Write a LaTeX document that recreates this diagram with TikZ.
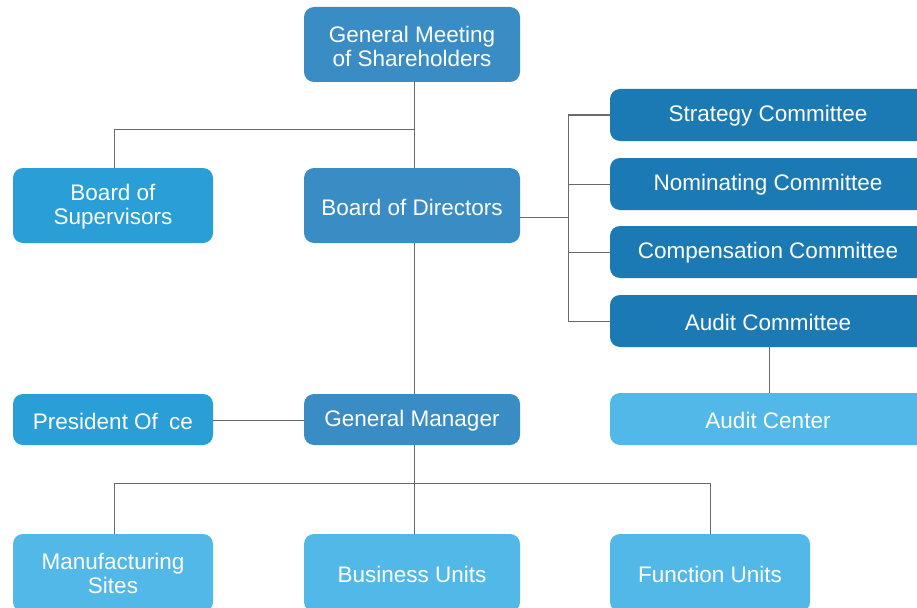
\documentclass[tikz,border=0pt]{standalone}
\usepackage{fontspec}
\setmainfont{Liberation Sans}
\begin{document}
\begin{tikzpicture}[x=1pt,y=-1pt,
  box/.style={rounded corners=10pt,text=white,font=\fontsize{22.5}{24}\selectfont,align=center,inner sep=0pt,draw=none},
  mid/.style={fill=c1},
  dark/.style={fill=c2},
  bright/.style={fill=c3},
  light/.style={fill=c4},
  conn/.style={draw=lineg,line width=1pt}]
\definecolor{c1}{HTML}{3A8CC4}
\definecolor{c2}{HTML}{1B7AB3}
\definecolor{c3}{HTML}{2A9ED6}
\definecolor{c4}{HTML}{52B8E8}
\definecolor{lineg}{HTML}{6A6A6A}
\useasboundingbox (0,0) rectangle (917,607);
\clip (0,0) rectangle (917,607);
% boxes
\path[box,mid] (304,7) rectangle (520,82);
\node[box] (gms) at (412,46) {General Meeting\\of Shareholders};
\path[box,bright] (13,168) rectangle (213,243);
\node[box] (bos) at (113,207) {Board of\\Supervisors};
\path[box,mid] (304,168) rectangle (520,243);
\node[box] (bod) at (412,207) {Board of Directors};
\path[box,dark] (610,89) rectangle (927,141);
\node[box] (sc) at (768,116) {Strategy Committee};
\path[box,dark] (610,158) rectangle (927,210);
\node[box] (nc) at (768,185) {Nominating Committee};
\path[box,dark] (610,226) rectangle (927,278);
\node[box] (cc) at (768,253) {Compensation Committee};
\path[box,dark] (610,295) rectangle (927,347);
\node[box] (ac) at (768,322) {Audit Committee};
\path[box,light] (610,393) rectangle (927,445);
\node[box] (acen) at (768,420) {Audit Center};
\path[box,bright] (13,394) rectangle (213,445);
\node[box] (po) at (113,421) {President Of\hspace{0.5em}ce};
\path[box,mid] (304,394) rectangle (520,445);
\node[box] (gm) at (412,421) {General Manager};
\path[box,light] (13,534) rectangle (213,612);
\node[box] (ms) at (113,573) {Manufacturing\\Sites};
\path[box,light] (304,534) rectangle (520,612);
\node[box] (bu) at (412,574) {Business Units};
\path[box,light] (610,534) rectangle (810,612);
\node[box] (fu) at (710,574) {Function Units};
% coordinates
\coordinate (gmsB) at (414,82);
\coordinate (bodT) at (414,168);
\coordinate (bosT) at (114,168);
\coordinate (j1) at (414,129);
\coordinate (bodR) at (520,217);
\coordinate (bodB) at (414,243);
\coordinate (gmT) at (414,394);
\coordinate (gmL) at (304,420);
\coordinate (gmB) at (414,445);
\coordinate (poR) at (213,420);
\coordinate (acB) at (769,347);
\coordinate (acenT) at (769,393);
\coordinate (scL) at (610,115);
\coordinate (ncL) at (610,184);
\coordinate (ccL) at (610,252);
\coordinate (acL) at (610,321);
\coordinate (msT) at (114,534);
\coordinate (buT) at (414,534);
\coordinate (fuT) at (710,534);
% connectors
\draw[conn] (gmsB) -- (bodT);
\draw[conn] (j1) -| (bosT);
\draw[conn] (bodR) -- (568,217);
\draw[conn] (scL) -| (568,321) -- (acL);
\draw[conn] (ncL) -- (568,184);
\draw[conn] (ccL) -- (568,252);
\draw[conn] (acB) -- (acenT);
\draw[conn] (bodB) -- (gmT);
\draw[conn] (poR) -- (gmL);
\draw[conn] (gmB) -- (414,483);
\draw[conn] (msT) |- (fuT |- 0,483) -- (fuT);
\draw[conn] (buT) -- (414,483);
\end{tikzpicture}
\end{document}
